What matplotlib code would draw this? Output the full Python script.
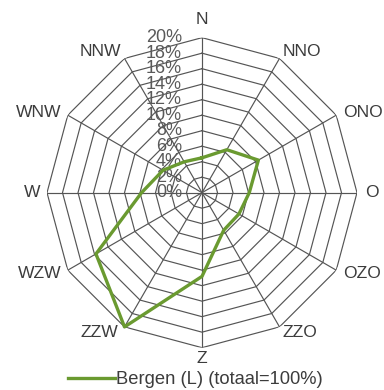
import numpy as np
import matplotlib.pyplot as plt

plt.rcParams['font.family'] = ['Liberation Sans', 'DejaVu Sans']

richtingen = ['N', 'NNO', 'ONO', 'O', 'OZO', 'ZZO', 'Z', 'ZZW', 'WZW', 'W', 'WNW', 'NNW']
bergen = [4.5, 6.4, 8.4, 6.1, 5.5, 5.6, 10.8, 20.0, 15.8, 7.8, 5.8, 4.6]
ringen = [2, 4, 6, 8, 10, 12, 14, 16, 18, 20]
ring_labels = ['0%', '2%', '4%', '6%', '8%', '10%', '12%', '14%', '16%', '18%', '20%']

# label placement per direction: (dx, dy) in pixels, horizontal alignment
label_pos = {
    'N': (0, 18, 'center'), 'NNO': (3, 7, 'left'), 'ONO': (7, 3, 'left'),
    'O': (8, 0, 'left'), 'OZO': (7, -3, 'left'), 'ZZO': (3, -6, 'left'),
    'Z': (0, -11, 'center'), 'ZZW': (-6, -6, 'right'), 'WZW': (-6, -3, 'right'),
    'W': (-7, 0, 'right'), 'WNW': (-6, 3, 'right'), 'NNW': (-3, 7, 'right'),
}

grid_col = '#555555'
groen = '#6a9a30'

fig = plt.figure(figsize=(3.84, 3.9), dpi=100)
ax = fig.add_axes([0.1224, 0.1085, 0.8073, 0.7949], projection='polar')
ax.set_theta_zero_location('N')
ax.set_theta_direction(-1)
ax.set_ylim(0, 20)
ax.axis('off')

hoeken = np.linspace(0, 2 * np.pi, len(richtingen), endpoint=False)
hoeken_dicht = np.append(hoeken, hoeken[0])

# polygon rings and spokes
for r in ringen:
    ax.plot(hoeken_dicht, [r] * len(hoeken_dicht), color=grid_col, lw=0.85, zorder=1)
for h in hoeken:
    ax.plot([h, h], [0, 20], color=grid_col, lw=0.85, zorder=1)

# ring labels
for i, lab in enumerate(ring_labels):
    ax.annotate(lab, xy=(0, i * 2), xytext=(-20, 0), textcoords='offset pixels',
                ha='right', va='center', fontsize=13, color='#5a5a5a', zorder=3)

# direction labels
for h, naam in zip(hoeken, richtingen):
    dx, dy, ha = label_pos[naam]
    ax.annotate(naam, xy=(h, 20), xytext=(dx, dy), textcoords='offset pixels',
                ha=ha, va='center', fontsize=12.6, color='#3c3c3c',
                annotation_clip=False)

waarden = bergen + [bergen[0]]
ax.plot(hoeken_dicht, waarden, color=groen, lw=2.4, zorder=4,
        label='Bergen (L) (totaal=100%)', clip_on=False)

leg = ax.legend(loc='center', bbox_to_anchor=(0.509, 0.026),
                bbox_transform=fig.transFigure, frameon=False, fontsize=13.2,
                handlelength=2.55, handletextpad=0.1, borderpad=0)
for t in leg.get_texts():
    t.set_color('#3c3c3c')

fig.savefig('out.png', dpi=100)
